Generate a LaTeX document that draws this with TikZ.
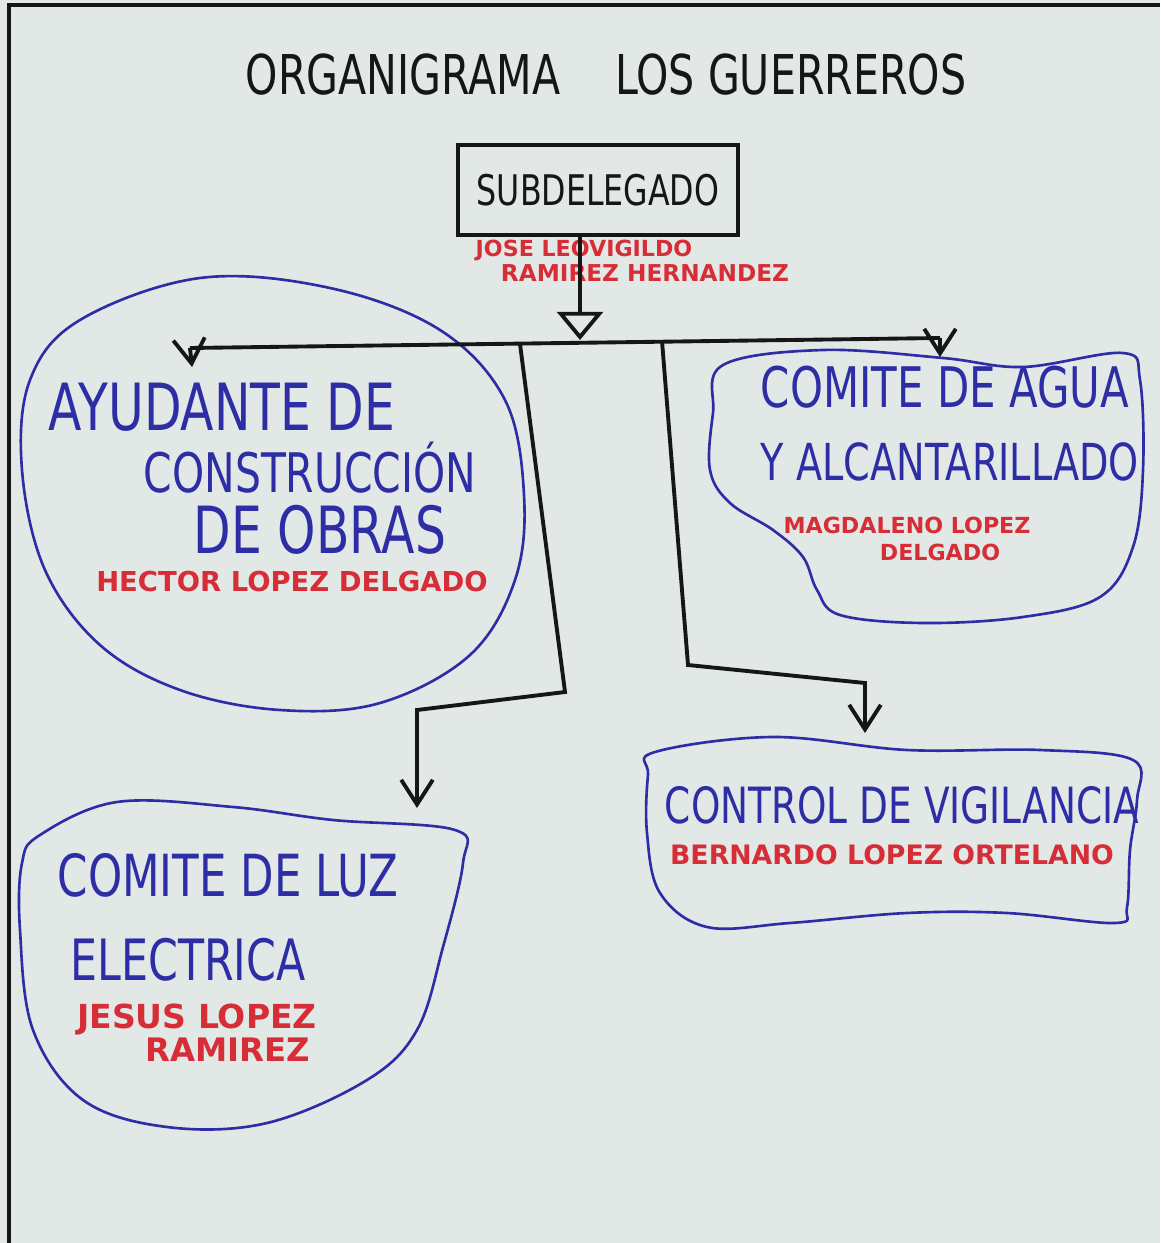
\documentclass[tikz,border=0pt]{standalone}
\usepackage{fontspec}
\setmainfont{DejaVu Sans}
\newfontfamily\handfont[FakeStretch=0.75]{DejaVu Sans}
\usetikzlibrary{arrows.meta}

\definecolor{paper}{RGB}{226,232,230}
\definecolor{ink}{RGB}{22,22,22}
\definecolor{marker}{RGB}{45,45,165}
\definecolor{redink}{RGB}{214,45,55}

\tikzset{
  titletxt/.style={text=ink, inner sep=0pt, font=\handfont\fontsize{15.6}{18}\selectfont},
  bossbox/.style={draw=ink, line width=1.1pt, minimum width=2.8cm, minimum height=0.9cm,
    text=ink, font=\handfont\fontsize{12}{14}\selectfont},
  bluetxt/.style={text=marker, inner sep=0pt, font=\handfont\fontsize{#1}{#1}\selectfont},
  names/.style={text=redink, inner sep=0pt, font=\bfseries\fontsize{#1}{#1}\selectfont},
  blob/.style={draw=marker, line width=0.75pt},
  link/.style={draw=ink, line width=1.1pt},
  down/.style={link, -{Straight Barb[length=7pt,width=9pt]}},
}

\begin{document}
\begin{tikzpicture}[x=0.01cm,y=-0.01cm]
\useasboundingbox (0,0) rectangle (1160,1243);
\fill[paper] (0,0) rectangle (1160,1243);
\draw[ink, line width=1pt] (9,1243) -- (9,5) -- (1160,5);

% blobs
\draw[blob] plot[smooth cycle, tension=0.6] coordinates {(200,278) (330,288) (440,330) (505,400)
  (524,495) (515,580) (470,655) (380,703) (280,710) (180,690) (100,645) (45,570) (22,470)
  (30,380) (80,320)};
\draw[blob] plot[smooth cycle, tension=0.6] coordinates {(723,365) (823,350) (943,358) (1023,367)
  (1123,353) (1140,380) (1143,470) (1133,547) (1100,597) (1023,617) (923,623) (840,615)
  (817,590) (803,557) (773,530) (730,503) (710,470) (713,413)};
\draw[blob] plot[smooth cycle, tension=0.6] coordinates {(40,835) (117,802) (233,807) (333,820)
  (455,830) (463,863) (443,947) (417,1030) (367,1080) (267,1123) (167,1127) (83,1100)
  (33,1030) (20,930) (22,863)};
\draw[blob] plot[smooth cycle, tension=0.6] coordinates {(655,752) (773,737) (907,750) (1040,750)
  (1133,760) (1137,800) (1130,850) (1127,907) (1115,923) (1007,913) (907,913) (790,923)
  (707,927) (660,893) (647,833) (648,775)};

% title and boss
\node[titletxt] (titulo) at (606,75) {ORGANIGRAMA\quad LOS GUERREROS};
\node[bossbox] (jefe) at (598,190) {SUBDELEGADO};
\node[names=6.3] (jefeNom1) at (584,250) {JOSE LEOVIGILDO};
\node[names=6.6] (jefeNom2) at (645,273) {RAMIREZ HERNANDEZ};

% connectors
\coordinate (drop) at (580,340);
\coordinate (barL) at (190,348);
\coordinate (barR) at (940,338);
\coordinate (brA) at (520,344);
\coordinate (brB) at (662,341);
\coordinate (ayudaIn) at (192,367);
\coordinate (aguaIn) at (940,357);
\coordinate (kneeA) at (565,692);
\coordinate (kneeA2) at (417,710);
\coordinate (luzIn) at (417,808);
\coordinate (kneeB) at (688,665);
\coordinate (kneeB2) at (865,683);
\coordinate (vigiIn) at (865,733);

\draw[link, -{Triangle[open, length=8pt, width=13pt]}] (jefe.south -| drop) -- (drop);
\draw[link] (barL) -- (barR);
\draw[down] (barL) -- (ayudaIn);
\draw[down] (barR) -- (aguaIn);
\draw[down] (brA) -- (kneeA) -- (kneeA2) -- (luzIn);
\draw[down] (brB) -- (kneeB) -- (kneeB2) -- (vigiIn);

% ayudante
\node[bluetxt=18.5] (ayuda1) at (222,407) {AYUDANTE DE};
\node[bluetxt=15.5] (ayuda2) at (310,468) {CONSTRUCCIÓN};
\node[bluetxt=18.5] (ayuda3) at (320,530) {DE OBRAS};
\node[names=7.8] (ayudaNom) at (292,582) {HECTOR LOPEZ DELGADO};

% agua
\node[bluetxt=15.9] (agua1) at (945,387) {COMITE DE AGUA};
\node[bluetxt=14.5] (agua2) at (950,462) {Y ALCANTARILLADO};
\node[names=6.3] (aguaNom1) at (907,525) {MAGDALENO LOPEZ};
\node[names=6.3] (aguaNom2) at (940,552) {DELGADO};

% luz
\node[bluetxt=16.5] (luz1) at (228,875) {COMITE DE LUZ};
\node[bluetxt=16.2] (luz2) at (188,960) {ELECTRICA};
\node[names=9.4] (luzNom1) at (197,1020) {JESUS LOPEZ};
\node[names=9.2] (luzNom2) at (228,1050) {RAMIREZ};

% vigilancia
\node[bluetxt=14.2] (vigi1) at (902,805) {CONTROL DE VIGILANCIA};
\node[names=7.6] (vigiNom) at (892,855) {BERNARDO LOPEZ ORTELANO};
\end{tikzpicture}
\end{document}
